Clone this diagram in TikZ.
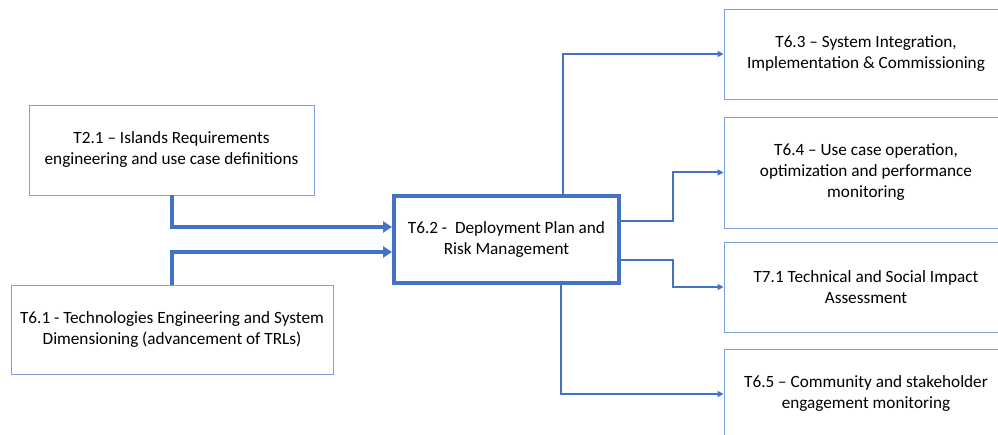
\documentclass[tikz,border=0pt]{standalone}
\usepackage{fontspec}
\setmainfont{Carlito}
\usetikzlibrary{arrows.meta}

\definecolor{taskblue}{HTML}{4472C4}
\definecolor{taskedge}{HTML}{7FA1DC}

\begin{document}
\begin{tikzpicture}[x=1pt,y=-1pt,
        task/.style={draw=taskedge,line width=0.9pt,rectangle,align=center,
            minimum width=284pt,minimum height=90pt,inner sep=0pt,
            font=\fontsize{17.2}{21}\selectfont},
        mainflow/.style={draw=taskblue,line width=4pt,-{Triangle[length=9pt,width=11pt]}},
        sideflow/.style={draw=taskblue,line width=2pt,-{Triangle[length=6pt,width=6pt]}}]
            \useasboundingbox (0,0) rectangle (998,435);

            \node[task,minimum width=285pt] (t21) at (171.5,150) {T2.1 -- Islands Requirements\\engineering and use case definitions};
            \node[task,minimum width=322pt,minimum height=89pt] (t61) at (172,329.5) {T6.1 - Technologies Engineering and System\\Dimensioning (advancement of TRLs)};
            \node[task,draw=taskblue,line width=4pt,minimum width=225pt,minimum height=87pt] (t62) at (506.5,239.5) {T6.2 -\ \ Deployment Plan and\\Risk Management};

            \node[task] (t63) at (866,54) {T6.3 -- System Integration,\\Implementation \& Commissioning};
            \node[task,minimum height=111pt] (t64) at (866,172.5) {T6.4 -- Use case operation,\\optimization and performance\\monitoring};
            \node[task] (t71) at (866,287) {T7.1 Technical and Social Impact\\Assessment};
            \node[task] (t65) at (866,394) {T6.5 -- Community and stakeholder\\engagement monitoring};

            % inputs into the deployment plan
            \draw[mainflow] (t21.south) |- ([yshift=12.5pt]t62.west);
            \draw[mainflow] (t61.north) |- ([yshift=-12.5pt]t62.west);

            % outputs to the follow-up tasks
            \draw[sideflow] ([xshift=56.5pt]t62.north) |- (t63.west);
            \draw[sideflow] ([yshift=18.5pt]t62.east) -- ++(52,0) |- (t64.west);
            \draw[sideflow] ([yshift=-20.5pt]t62.east) -- ++(52,0) |- (t71.west);
            \draw[sideflow] ([xshift=54.5pt]t62.south) |- (t65.west);
        \end{tikzpicture}
\end{document}
